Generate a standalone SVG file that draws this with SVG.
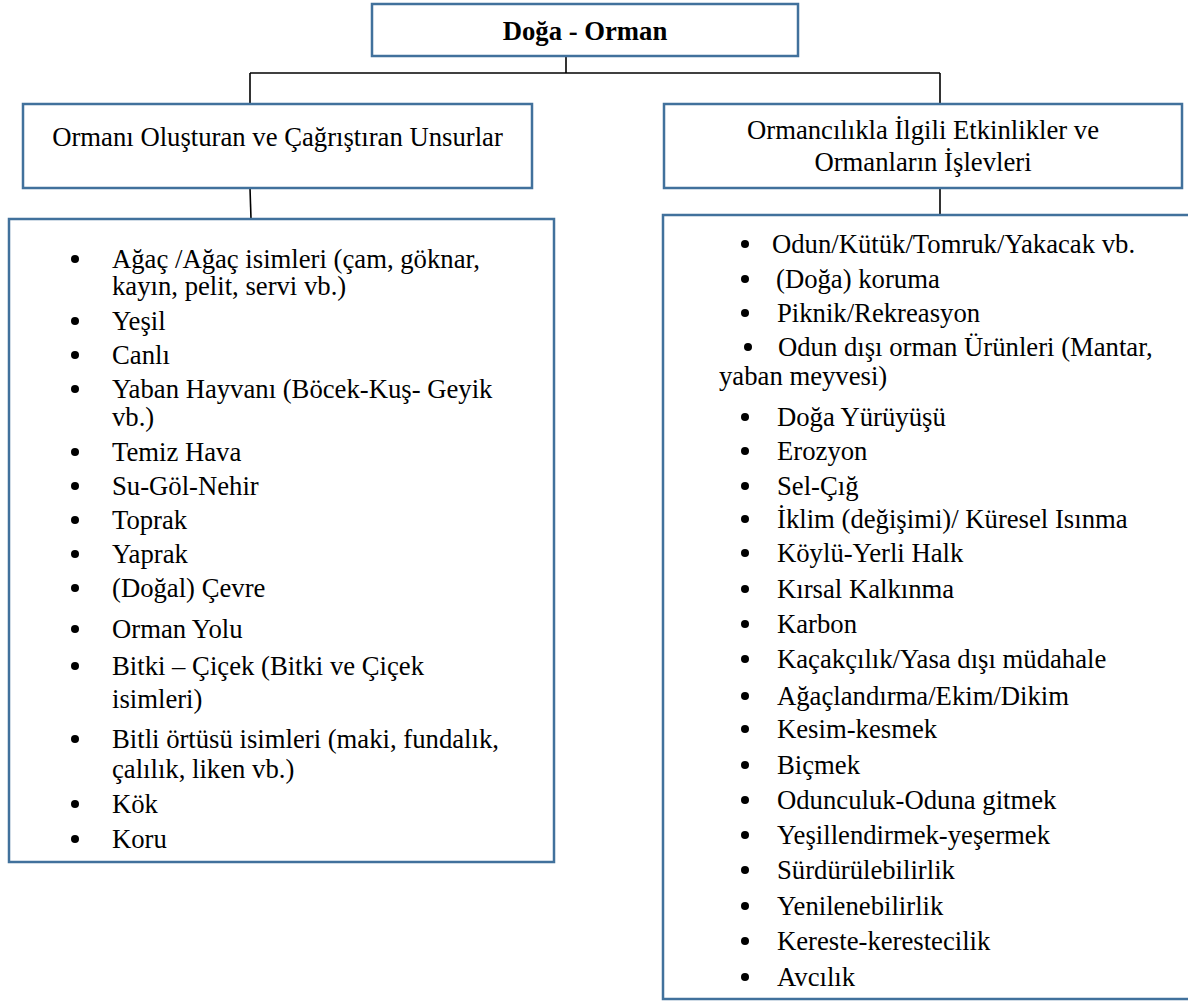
<svg xmlns="http://www.w3.org/2000/svg" width="1188" height="1003" viewBox="0 0 1188 1003">
<style>
.box{fill:#ffffff;stroke:#41719c;stroke-width:2.5}
.ln{stroke:#000000;stroke-width:1.6;fill:none}
.dot{fill:#000000}
</style>
<rect width="1188" height="1003" fill="#ffffff"/>
<g id="connectors">
<line class="ln" x1="566" y1="56" x2="566" y2="73"/>
<line class="ln" x1="250" y1="73" x2="940" y2="73"/>
<line class="ln" x1="250" y1="73" x2="250" y2="104"/>
<line class="ln" x1="940" y1="73" x2="940" y2="104"/>
<line class="ln" x1="250" y1="188" x2="251" y2="219"/>
<line class="ln" x1="940" y1="188" x2="940" y2="215"/>
</g>
<g id="root">
<rect class="box" x="372" y="4" width="426" height="52"/>
<text x="585" y="40" font-family="Liberation Serif" font-size="26.7" font-weight="bold" text-anchor="middle">Doğa - Orman</text>
</g>
<g id="left-header">
<rect class="box" x="23" y="104" width="509" height="84"/>
<text x="277.5" y="146" font-family="Liberation Serif" font-size="26.7" text-anchor="middle">Ormanı Oluşturan ve Çağrıştıran Unsurlar</text>
</g>
<g id="right-header">
<rect class="box" x="664" y="104" width="518" height="84"/>
<text x="923" y="139" font-family="Liberation Serif" font-size="26.7" text-anchor="middle">Ormancılıkla İlgili Etkinlikler ve</text>
<text x="923" y="171" font-family="Liberation Serif" font-size="26.7" text-anchor="middle">Ormanların İşlevleri</text>
</g>
<g id="left-list">
<rect class="box" x="9" y="219" width="545" height="643"/>
<g class="dot">
<circle cx="75" cy="259" r="4"/>
<circle cx="75" cy="321" r="4"/>
<circle cx="75" cy="355" r="4"/>
<circle cx="75" cy="389" r="4"/>
<circle cx="75" cy="452" r="4"/>
<circle cx="75" cy="486" r="4"/>
<circle cx="75" cy="520" r="4"/>
<circle cx="75" cy="554" r="4"/>
<circle cx="75" cy="588" r="4"/>
<circle cx="75" cy="629" r="4"/>
<circle cx="75" cy="666" r="4"/>
<circle cx="75" cy="739" r="4"/>
<circle cx="75" cy="804" r="4"/>
<circle cx="75" cy="839" r="4"/>
</g>
<text x="112" y="268" font-family="Liberation Serif" font-size="26.7">Ağaç /Ağaç isimleri (çam, göknar,</text>
<text x="112" y="295" font-family="Liberation Serif" font-size="26.7">kayın, pelit, servi vb.)</text>
<text x="112" y="330" font-family="Liberation Serif" font-size="26.7">Yeşil</text>
<text x="112" y="364" font-family="Liberation Serif" font-size="26.7">Canlı</text>
<text x="112" y="398" font-family="Liberation Serif" font-size="26.7">Yaban Hayvanı (Böcek-Kuş- Geyik</text>
<text x="112" y="426" font-family="Liberation Serif" font-size="26.7">vb.)</text>
<text x="112" y="461" font-family="Liberation Serif" font-size="26.7">Temiz Hava</text>
<text x="112" y="495" font-family="Liberation Serif" font-size="26.7">Su-Göl-Nehir</text>
<text x="112" y="529" font-family="Liberation Serif" font-size="26.7">Toprak</text>
<text x="112" y="563" font-family="Liberation Serif" font-size="26.7">Yaprak</text>
<text x="112" y="597" font-family="Liberation Serif" font-size="26.7">(Doğal) Çevre</text>
<text x="112" y="638" font-family="Liberation Serif" font-size="26.7">Orman Yolu</text>
<text x="112" y="675" font-family="Liberation Serif" font-size="26.7">Bitki – Çiçek (Bitki ve Çiçek</text>
<text x="112" y="708" font-family="Liberation Serif" font-size="26.7">isimleri)</text>
<text x="112" y="748" font-family="Liberation Serif" font-size="26.7">Bitli örtüsü isimleri (maki, fundalık,</text>
<text x="112" y="778" font-family="Liberation Serif" font-size="26.7">çalılık, liken vb.)</text>
<text x="112" y="813" font-family="Liberation Serif" font-size="26.7">Kök</text>
<text x="112" y="848" font-family="Liberation Serif" font-size="26.7">Koru</text>
</g>
<g id="right-list">
<rect class="box" x="663" y="215" width="530" height="784"/>
<g class="dot">
<circle cx="745" cy="244" r="4"/>
<circle cx="745" cy="279" r="4"/>
<circle cx="745" cy="313" r="4"/>
<circle cx="748" cy="347" r="4"/>
<circle cx="745" cy="417" r="4"/>
<circle cx="745" cy="451" r="4"/>
<circle cx="745" cy="486" r="4"/>
<circle cx="745" cy="519" r="4"/>
<circle cx="745" cy="553" r="4"/>
<circle cx="745" cy="589" r="4"/>
<circle cx="745" cy="624" r="4"/>
<circle cx="745" cy="659" r="4"/>
<circle cx="745" cy="696" r="4"/>
<circle cx="745" cy="729" r="4"/>
<circle cx="745" cy="765" r="4"/>
<circle cx="745" cy="800" r="4"/>
<circle cx="745" cy="835" r="4"/>
<circle cx="745" cy="870" r="4"/>
<circle cx="745" cy="906" r="4"/>
<circle cx="745" cy="941" r="4"/>
<circle cx="745" cy="977" r="4"/>
</g>
<text x="772" y="253" font-family="Liberation Serif" font-size="26.7">Odun/Kütük/Tomruk/Yakacak vb.</text>
<text x="776" y="288" font-family="Liberation Serif" font-size="26.7">(Doğa) koruma</text>
<text x="777" y="322" font-family="Liberation Serif" font-size="26.7">Piknik/Rekreasyon</text>
<text x="778" y="356" font-family="Liberation Serif" font-size="26.7">Odun dışı orman Ürünleri (Mantar,</text>
<text x="719" y="385" font-family="Liberation Serif" font-size="26.7">yaban meyvesi)</text>
<text x="777" y="426" font-family="Liberation Serif" font-size="26.7">Doğa Yürüyüşü</text>
<text x="777" y="460" font-family="Liberation Serif" font-size="26.7">Erozyon</text>
<text x="777" y="495" font-family="Liberation Serif" font-size="26.7">Sel-Çığ</text>
<text x="777" y="528" font-family="Liberation Serif" font-size="26.7">İklim (değişimi)/ Küresel Isınma</text>
<text x="777" y="562" font-family="Liberation Serif" font-size="26.7">Köylü-Yerli Halk</text>
<text x="777" y="598" font-family="Liberation Serif" font-size="26.7">Kırsal Kalkınma</text>
<text x="777" y="633" font-family="Liberation Serif" font-size="26.7">Karbon</text>
<text x="777" y="668" font-family="Liberation Serif" font-size="26.7">Kaçakçılık/Yasa dışı müdahale</text>
<text x="777" y="705" font-family="Liberation Serif" font-size="26.7">Ağaçlandırma/Ekim/Dikim</text>
<text x="777" y="738" font-family="Liberation Serif" font-size="26.7">Kesim-kesmek</text>
<text x="777" y="774" font-family="Liberation Serif" font-size="26.7">Biçmek</text>
<text x="777" y="809" font-family="Liberation Serif" font-size="26.7">Odunculuk-Oduna gitmek</text>
<text x="777" y="844" font-family="Liberation Serif" font-size="26.7">Yeşillendirmek-yeşermek</text>
<text x="777" y="879" font-family="Liberation Serif" font-size="26.7">Sürdürülebilirlik</text>
<text x="777" y="915" font-family="Liberation Serif" font-size="26.7">Yenilenebilirlik</text>
<text x="777" y="950" font-family="Liberation Serif" font-size="26.7">Kereste-kerestecilik</text>
<text x="777" y="986" font-family="Liberation Serif" font-size="26.7">Avcılık</text>
</g>
</svg>
